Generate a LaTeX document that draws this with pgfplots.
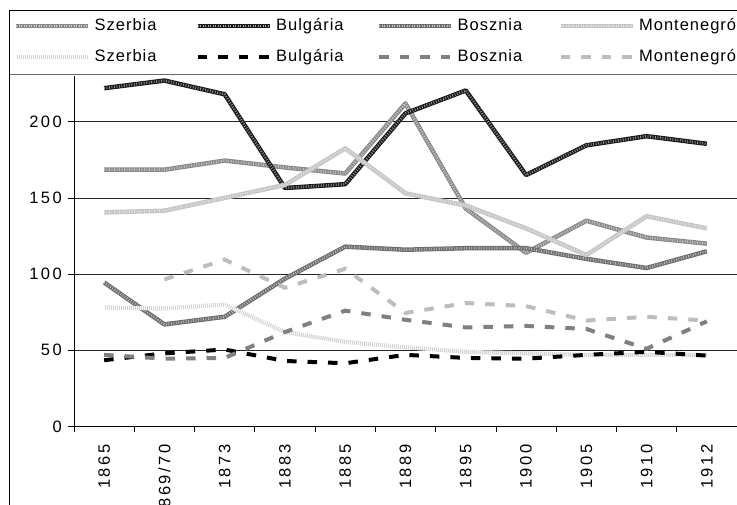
\documentclass[border=0pt]{standalone}
\usepackage{pgfplots}
\pgfplotsset{compat=1.18}
\usepackage{fontspec}
\setmainfont{Liberation Sans}[LetterSpace=6]
\newfontfamily\numfont{Liberation Sans}[LetterSpace=15]
\newcommand{\cf}{\fontsize{16.5pt}{19pt}\selectfont}
\definecolor{cSzA}{HTML}{8A8A8A}
\definecolor{cBulA}{HTML}{1A1A1A}
\definecolor{cBosA}{HTML}{6E6E6E}
\definecolor{cMonA}{HTML}{C4C4C4}
\definecolor{cSzB}{HTML}{D0D0D0}
\definecolor{cBosB}{HTML}{808080}
\definecolor{cMonB}{HTML}{BDBDBD}
\pgfplotstableread{
x SzA BulA BosA MonA SzB BulB BosB
0 168.5 222 94.5 140.5 78 43.5 47
1 168.5 227 67 141.6 77.5 48 44.5
2 174.5 218 72 150 80 50.5 45
3 170 156.5 97 158.5 62 43 62
4 166 159 118 182.5 55.5 41.5 76
5 212 205.5 116 153 52 47 70
6 143 220.5 117 145 49 45 65
7 114 165 117 130 48 44.5 66
8 135 184.5 110 112.5 47 47 64
9 124 190.5 104 138 47 49 51
10 120 185.5 115 130 47 46.5 69
}\datatable
\pgfplotstableread{
x MonB
1 96.5
2 109.5
3 91
4 103.5
5 74.5
6 81
7 79
8 69.5
9 72
10 69.5
}\montable
\begin{document}
\begin{tikzpicture}[x=1pt,y=1pt,font=\cf]
\useasboundingbox (0,0) rectangle (737,505);
\begin{axis}[
  at={(74pt,78.5pt)}, anchor=south west,
  scale only axis, width=663pt, height=350.5pt,
  xmin=-0.5, xmax=10.5, ymin=0, ymax=230,
  axis lines*=left,
  axis line style={black, line width=1pt},
  xtick={0,...,10},
  xticklabels={1865,1869/70,1873,1883,1885,1889,1895,1900,1905,1910,1912},
  major x tick style={draw=none},
  minor xtick={-0.5,0.5,...,10.5},
  minor tick length=6pt, major tick length=6pt,
  tick align=outside,
  tick style={black, line width=0.8pt},
  ytick={0,50,100,150,200},
  ymajorgrids, grid style={black!85, line width=0.8pt},
  /pgf/number format/assume math mode=true,
  every tick label/.append style={font=\cf\numfont},
  xticklabel style={yshift=-12pt, rotate=90, anchor=east, inner sep=0pt},
  yticklabel style={xshift=-6pt, anchor=east, inner sep=0pt},
  clip=false,
  legend columns=4,
  legend style={at={(-0.0905,1.0984)}, anchor=west, draw=none, fill=none, font=\cf,
    inner sep=0pt, column sep=4pt, row sep=15pt,
    nodes={inner sep=0pt, text height=12pt, text depth=4pt, anchor=west}},
  legend cell align=left,
  legend image code/.code={\draw[#1] (0pt,0pt) -- (72pt,0pt);},
  tx/.style={line width=4.5pt, line join=round, postaction={draw=white, line width=2.5pt, dash pattern=on 0.7pt off 1.8pt, opacity=0.6}},
]
\addplot[cSzA, tx] table[x=x,y=SzA]{\datatable};
\addlegendentry{\makebox[97pt][l]{Szerbia}}
\addplot[cBulA, tx] table[x=x,y=BulA]{\datatable};
\addlegendentry{\makebox[97pt][l]{Bulgária}}
\addplot[cBosA, tx] table[x=x,y=BosA]{\datatable};
\addlegendentry{\makebox[97pt][l]{Bosznia}}
\addplot[cMonA, tx] table[x=x,y=MonA]{\datatable};
\addlegendentry{Montenegró}
\addplot[cSzB, line width=4pt, postaction={draw=white, line width=4pt, dash pattern=on 0.8pt off 1.2pt}] table[x=x,y=SzB]{\datatable};
\addlegendentry{\makebox[97pt][l]{Szerbia}}
\addplot[black, line width=4pt, dash pattern=on 9.5pt off 11pt] table[x=x,y=BulB]{\datatable};
\addlegendentry{\makebox[97pt][l]{Bulgária}}
\addplot[cBosB, line width=4pt, dash pattern=on 9.5pt off 11pt] table[x=x,y=BosB]{\datatable};
\addlegendentry{\makebox[97pt][l]{Bosznia}}
\addplot[cMonB, line width=4pt, dash pattern=on 9.5pt off 11pt] table[x=x,y=MonB]{\montable};
\addlegendentry{Montenegró}
\end{axis}
\draw[black, line width=1pt] (9.5,0) -- (9.5,494.5) -- (737,494.5);
\draw[black!60, line width=1.5pt] (9.5,430.5) -- (737,430.5);
\end{tikzpicture}
\end{document}
